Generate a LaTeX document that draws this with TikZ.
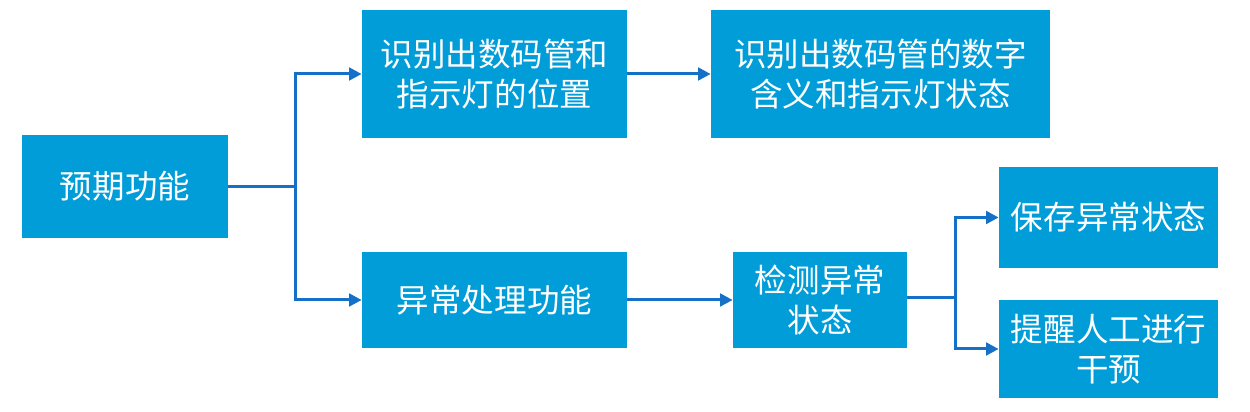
\documentclass[tikz,border=0pt]{standalone}
\usepackage{fontspec}
\setmainfont{Noto Sans CJK SC}
\usetikzlibrary{arrows.meta}
\definecolor{boxblue}{HTML}{009DD9}
\definecolor{lineblue}{HTML}{1570C8}
\tikzset{
    block/.style={fill=boxblue, text=white, align=center, inner sep=0pt,
        font=\fontsize{18.5}{23}\selectfont},
    link/.style={draw=lineblue, line width=0.06cm, -{Triangle[length=0.25cm,width=0.25cm]}},
    bar/.style={draw=lineblue, line width=0.06cm}
}
\begin{document}
\begin{tikzpicture}
        \useasboundingbox[fill=white] (0,0) rectangle (25,-8.24);
        % Draw the boxes
        \node[block, minimum width=4.12cm, minimum height=2.06cm] (yq) at (2.5,-3.73) {预期功能};
        \node[block, minimum width=5.3cm, minimum height=2.56cm] (wz) at (9.89,-1.48) {识别出数码管和\\指示灯的位置};
        \node[block, minimum width=6.78cm, minimum height=2.56cm] (hy) at (17.61,-1.48) {识别出数码管的数字\\含义和指示灯状态};
        \node[block, minimum width=5.3cm, minimum height=1.92cm] (yc) at (9.89,-6.0) {异常处理功能};
        \node[block, minimum width=3.48cm, minimum height=1.92cm] (jc) at (16.4,-6.0) {检测异常\\状态};
        \node[block, minimum width=4.38cm, minimum height=2.02cm] (bc) at (22.17,-4.35) {保存异常状态};
        \node[block, minimum width=4.38cm, minimum height=1.96cm] (tx) at (22.17,-6.98) {提醒人工进行\\干预};
        % Branch points
        \coordinate (s1) at (5.9,-3.73);
        \coordinate (s2) at (19.1,-5.96);
        % Draw the connectors
        \draw[bar] (yq.east) -- (s1);
        \draw[link] (s1) |- (wz.west);
        \draw[link] (s1) |- (yc.west);
        \draw[link] (wz.east) -- (hy.west);
        \draw[link] (yc.east) -- (jc.west);
        \draw[bar] (jc.east |- s2) -- (s2);
        \draw[link] (s2) |- (bc.west);
        \draw[link] (s2) |- (tx.west);
    \end{tikzpicture}
\end{document}
